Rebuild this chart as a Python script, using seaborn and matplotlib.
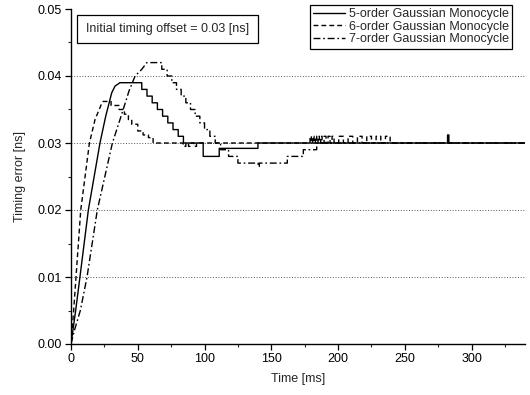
import matplotlib
matplotlib.use("Agg")
import matplotlib.pyplot as plt
from matplotlib.patches import Rectangle
from matplotlib.ticker import MultipleLocator, FormatStrFormatter
import seaborn as sns
import pandas as pd

sns.set_style("ticks")
plt.rcParams['font.family'] = ['Liberation Sans', 'DejaVu Sans']

# ---- data (time in ms, timing error in ns) ----
labels = ["5-order Gaussian Monocycle", "6-order Gaussian Monocycle", "7-order Gaussian Monocycle"]

# 5-order: ramp (straight segments) then staircase (held values)
ramp5_t = [0, 3.5, 6.7, 13, 21.7, 26, 30.5, 33, 36.7]
ramp5_v = [0, 0.005, 0.010, 0.020, 0.030, 0.034, 0.0375, 0.0385, 0.039]
step5_t = [36.7, 53, 56.9, 60.8, 64.7, 68.6, 72.5, 76.4, 80.3, 84.2, 99, 111, 140, 282, 283, 340]
step5_v = [0.039, 0.038, 0.037, 0.036, 0.035, 0.034, 0.033, 0.032, 0.031, 0.030, 0.028, 0.0292,
           0.030, 0.0312, 0.030, 0.030]

# 6-order
ramp6_t = [0, 2, 3.75, 7.3, 13.8, 18, 23, 24]
ramp6_v = [0, 0.005, 0.010, 0.020, 0.030, 0.0335, 0.0359, 0.0362]
step6_t = [24, 30, 36, 40, 43, 45.5, 50, 54, 58, 61.5,
           84, 86, 88, 90, 92, 94,
           179, 180, 181, 182, 183, 184, 185, 186, 187, 188, 189.5, 191, 192.5, 194, 195.5, 197,
           200.5, 204, 207.5, 211, 214.5, 218, 221.5, 225, 228.5, 232, 235.5, 239, 340]
step6_v = [0.0362, 0.0356, 0.035, 0.0343, 0.0335, 0.0328, 0.0318, 0.0312, 0.0308, 0.030,
           0.0295, 0.030, 0.0295, 0.030, 0.0295, 0.030,
           0.031, 0.030, 0.031, 0.030, 0.031, 0.030, 0.031, 0.030, 0.031, 0.030, 0.031, 0.030,
           0.031, 0.030, 0.031, 0.030,
           0.031, 0.030, 0.031, 0.030, 0.031, 0.030, 0.031, 0.030, 0.031, 0.030, 0.031, 0.030, 0.030]

# 7-order
ramp7_t = [0, 2.5, 7, 12, 19.7, 31, 37.5, 43.5, 48, 53, 56.8]
ramp7_v = [0, 0.002, 0.005, 0.010, 0.020, 0.030, 0.034, 0.0378, 0.040, 0.041, 0.042]
step7_t = [56.8, 68, 72, 75.5, 79, 82.5, 86, 89.5, 93, 96.5, 100, 104, 108,
           112, 118, 125, 140, 141, 162, 174, 184, 340]
step7_v = [0.042, 0.041, 0.040, 0.039, 0.038, 0.037, 0.036, 0.035, 0.034, 0.033, 0.032, 0.031, 0.030,
           0.029, 0.028, 0.027, 0.0265, 0.027, 0.028, 0.029, 0.030, 0.030]

x_ticks = [0, 50, 100, 150, 200, 250, 300]
y_ticks = [0.00, 0.01, 0.02, 0.03, 0.04, 0.05]


def trace(rt, rv, st, sv):
    xs, ys = list(rt), list(rv)
    for i in range(1, len(st)):
        xs += [st[i], st[i]]
        ys += [sv[i - 1], sv[i]]
    return xs, ys


series = [(ramp5_t, ramp5_v, step5_t, step5_v),
          (ramp6_t, ramp6_v, step6_t, step6_v),
          (ramp7_t, ramp7_v, step7_t, step7_v)]
styles = ["-", (0, (3.5, 2.2)), (0, (5, 2, 1.2, 2))]

fig = plt.figure(figsize=(5.3, 3.95), dpi=100)
ax = fig.add_axes([71 / 530, 1 - 344 / 395, 454 / 530, 335 / 395])

for yv in y_ticks[1:5]:
    ax.axhline(yv, color="#555555", lw=0.7, ls=(0, (1, 1.8)), zorder=0)

for (rt, rv, st, sv), lab, ls in zip(series, labels, styles):
    xs, ys = trace(rt, rv, st, sv)
    df = pd.DataFrame({"t": xs, "e": ys})
    sns.lineplot(data=df, x="t", y="e", ax=ax, sort=False, estimator=None,
                 color="black", lw=1.0, linestyle=ls, label=lab)

ax.set_xlim(0, 340)
ax.set_ylim(0, 0.05)
ax.set_xticks(x_ticks)
ax.set_yticks(y_ticks)
ax.xaxis.set_minor_locator(MultipleLocator(25))
ax.yaxis.set_minor_locator(MultipleLocator(0.005))
ax.yaxis.set_major_formatter(FormatStrFormatter("%.2f"))
ax.tick_params(which="major", direction="out", length=4, width=0.9, labelsize=9, pad=2.5, colors="black")
ax.tick_params(which="minor", direction="out", length=2.5, width=0.8)
for s in ["top", "right"]:
    ax.spines[s].set_visible(False)
for s in ["left", "bottom"]:
    ax.spines[s].set_linewidth(1.0)
    ax.spines[s].set_color("black")

ax.set_xlabel("Time [ms]", fontsize=9, labelpad=6)
ax.set_ylabel("Timing error [ns]", fontsize=9, labelpad=8)

h, l = ax.get_legend_handles_labels()
ax.get_legend().remove()
leg = fig.legend(h, l, loc="upper right", bbox_to_anchor=(512 / 530, 1 - 5 / 395),
                 fontsize=9, frameon=True, fancybox=False, framealpha=1,
                 handlelength=2.6, handletextpad=0.3, labelspacing=0.05,
                 borderpad=0.25, borderaxespad=0)
leg.get_frame().set_edgecolor("black")
leg.get_frame().set_linewidth(0.9)

fig.patches.append(Rectangle((77 / 530, 1 - 43 / 395), 181 / 530, 28 / 395,
                             transform=fig.transFigure, fill=True, facecolor="white",
                             edgecolor="black", lw=0.9, zorder=5))
fig.text(167.5 / 530, 1 - 29 / 395, "Initial timing offset = 0.03 [ns]", fontsize=9,
         ha="center", va="center", zorder=6)

fig.savefig("out.png", dpi=100)
